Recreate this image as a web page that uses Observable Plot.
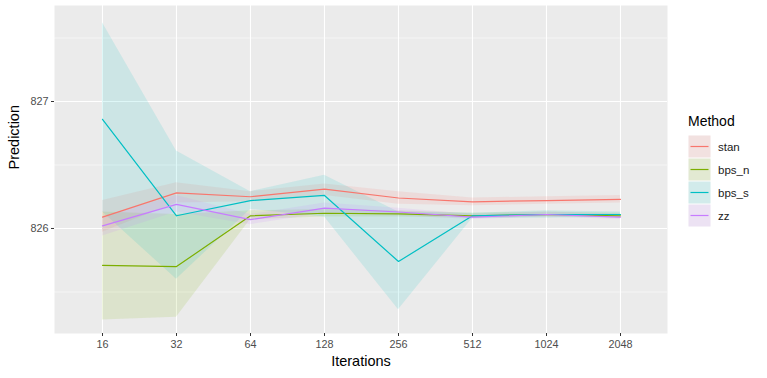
<!DOCTYPE html>
<html>
<head>
<meta charset="utf-8">
<script src="https://cdn.jsdelivr.net/npm/d3@7"></script>
<script src="https://cdn.jsdelivr.net/npm/@observablehq/plot@0.6"></script>
<style>
  body { margin: 0; background: white; font-family: "Liberation Sans", Arial, sans-serif; }
  #wrap { position: relative; width: 767px; height: 378px; }
  #legend { position: absolute; left: 688px; top: 111px; }
  #legend .title { font-size: 14px; color: #000; height: 24px; line-height: 20px; }
  #legend .row { display: flex; align-items: center; height: 23px; }
  #legend .row span { margin-left: 7px; font-size: 11.5px; color: #1a1a1a; }
</style>
</head>
<body>
<div id="wrap"><div id="chart"></div><div id="legend"></div></div>
<script>
const iterations = ["16","32","64","128","256","512","1024","2048"];
const methods = ["stan","bps_n","bps_s","zz"];
const colors = ["#F8766D","#7CAE00","#00BFC4","#C77CFF"];

const stanMean = [826.09, 826.28, 826.25, 826.31, 826.24, 826.21, 826.22, 826.23];
const stanLo   = [825.97, 826.20, 826.21, 826.26, 826.19, 826.18, 826.19, 826.20];
const stanHi   = [826.22, 826.36, 826.29, 826.35, 826.29, 826.24, 826.25, 826.26];

const bpsnMean = [825.71, 825.70, 826.10, 826.12, 826.115, 826.10, 826.11, 826.10];
const bpsnLo   = [825.28, 825.30, 826.07, 826.09, 826.09, 826.08, 826.09, 826.08];
const bpsnHi   = [826.13, 826.11, 826.14, 826.15, 826.14, 826.12, 826.13, 826.12];

const bpssMean = [826.86, 826.10, 826.22, 826.26, 825.74, 826.10, 826.11, 826.11];
const bpssLo   = [826.13, 825.60, 826.15, 826.09, 825.36, 826.08, 826.08, 826.09];
const bpssHi   = [827.62, 826.61, 826.29, 826.42, 826.13, 826.12, 826.14, 826.13];

const zzMean = [826.02, 826.19, 826.07, 826.16, 826.13, 826.09, 826.11, 826.09];
const zzLo   = [825.94, 826.13, 826.03, 826.12, 826.10, 826.07, 826.09, 826.07];
const zzHi   = [826.09, 826.26, 826.11, 826.20, 826.16, 826.11, 826.13, 826.11];

const yMajor = [826, 827];
const yMinor = [825.5, 826.5, 827.5];

const series = [
  ["stan", stanMean, stanLo, stanHi],
  ["bps_n", bpsnMean, bpsnLo, bpsnHi],
  ["bps_s", bpssMean, bpssLo, bpssHi],
  ["zz", zzMean, zzLo, zzHi]
];
const data = series.flatMap(([m, mean, lo, hi]) =>
  iterations.map((it, i) => ({method: m, iter: it, mean: mean[i], lo: lo[i], hi: hi[i]})));

const plot = Plot.plot({
  width: 767,
  height: 378,
  marginLeft: 54,
  marginRight: 100,
  marginTop: 5,
  marginBottom: 45,
  style: {fontFamily: "Liberation Sans, Arial, sans-serif", fontSize: "10.8px", background: "white"},
  x: {type: "point", domain: iterations, padding: 0.6},
  y: {domain: [825.173, 827.756]},
  color: {domain: methods, range: colors},
  marks: [
    Plot.frame({fill: "#EBEBEB", stroke: null}),
    Plot.gridY({ticks: yMinor, stroke: "white", strokeOpacity: 1, strokeWidth: 0.55}),
    Plot.gridY({ticks: yMajor, stroke: "white", strokeOpacity: 1, strokeWidth: 1.1}),
    Plot.gridX({stroke: "white", strokeOpacity: 1, strokeWidth: 1.1}),
    Plot.areaY(data, {x: "iter", y1: "lo", y2: "hi", z: "method", fill: "method", fillOpacity: 0.13}),
    Plot.lineY(data, {x: "iter", y: "mean", z: "method", stroke: "method", strokeWidth: 1.2}),
    Plot.axisX({tickSize: 3, tickPadding: 4, stroke: "#333333", fill: "#4D4D4D", label: null}),
    Plot.axisY({ticks: yMajor, tickSize: 3, tickPadding: 3, stroke: "#333333", fill: "#4D4D4D", label: null, tickFormat: d3.format("d")}),
    Plot.text(["Iterations"], {frameAnchor: "bottom", dy: 32, fontSize: 14.5, fill: "black"}),
    Plot.text(["Prediction"], {frameAnchor: "left", dx: -40, rotate: -90, fontSize: 14.5, fill: "black"})
  ]
});
document.getElementById("chart").appendChild(plot);

const legend = document.getElementById("legend");
const t = document.createElement("div");
t.className = "title";
t.textContent = "Method";
legend.appendChild(t);
methods.forEach((m, i) => {
  const row = document.createElement("div");
  row.className = "row";
  const ns = "http://www.w3.org/2000/svg";
  const s = document.createElementNS(ns, "svg");
  s.setAttribute("width", 23); s.setAttribute("height", 23);
  const r1 = document.createElementNS(ns, "rect");
  r1.setAttribute("x", 0.5); r1.setAttribute("y", 0.5); r1.setAttribute("width", 22); r1.setAttribute("height", 22);
  r1.setAttribute("fill", "#F2F2F2");
  const r2 = document.createElementNS(ns, "rect");
  r2.setAttribute("x", 0.5); r2.setAttribute("y", 0.5); r2.setAttribute("width", 22); r2.setAttribute("height", 22);
  r2.setAttribute("fill", colors[i]); r2.setAttribute("fill-opacity", 0.13);
  const l = document.createElementNS(ns, "line");
  l.setAttribute("x1", 2.5); l.setAttribute("x2", 20.5); l.setAttribute("y1", 11.5); l.setAttribute("y2", 11.5);
  l.setAttribute("stroke", colors[i]); l.setAttribute("stroke-width", 1.2);
  s.appendChild(r1); s.appendChild(r2); s.appendChild(l);
  row.appendChild(s);
  const sp = document.createElement("span");
  sp.textContent = m;
  row.appendChild(sp);
  legend.appendChild(row);
});
</script>
</body>
</html>
